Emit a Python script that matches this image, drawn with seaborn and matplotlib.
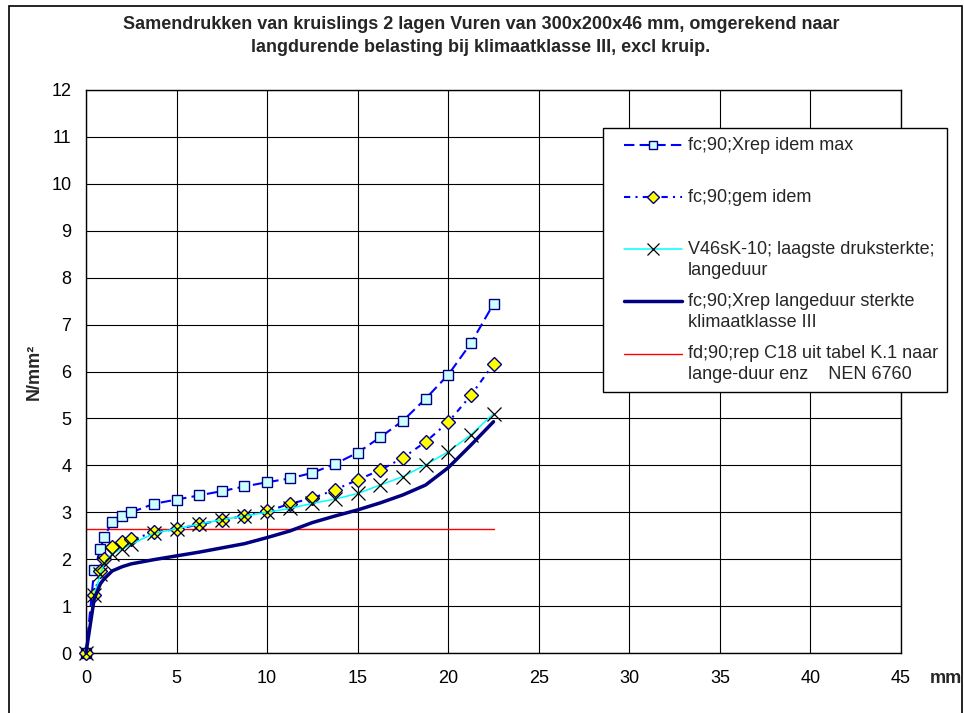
import matplotlib
matplotlib.use("Agg")
import matplotlib.pyplot as plt
from matplotlib.legend_handler import HandlerLine2D
from matplotlib.patches import Rectangle
from matplotlib.ticker import MultipleLocator
import seaborn as sns

# Indentation (mm) at which each measurement was taken
indrukking = [0, 0.45, 0.8, 1.0, 1.45, 2.0, 2.5, 3.75, 5, 6.25, 7.5, 8.75, 10,
              11.25, 12.5, 13.75, 15, 16.25, 17.5, 18.75, 20, 21.25, 22.5]

# Stress (N/mm2) per series
fc90_xrep_max = [0, 1.77, 2.21, 2.48, 2.79, 2.92, 3.00, 3.18, 3.27, 3.36, 3.45, 3.55,
                 3.64, 3.72, 3.84, 4.03, 4.27, 4.60, 4.95, 5.42, 5.93, 6.60, 7.44]
fc90_gem = [0, 1.24, 1.74, 2.00, 2.25, 2.36, 2.42, 2.57, 2.64, 2.74, 2.84, 2.92,
            3.02, 3.18, 3.30, 3.48, 3.69, 3.90, 4.16, 4.50, 4.92, 5.49, 6.16]
v46sk10 = [0, 1.24, 1.68, 1.92, 2.12, 2.22, 2.32, 2.55, 2.65, 2.75, 2.84, 2.92,
           3.00, 3.08, 3.19, 3.28, 3.40, 3.58, 3.76, 4.01, 4.29, 4.65, 5.10]
fc90_langeduur = [0, 1.15, 1.48, 1.58, 1.75, 1.84, 1.90, 1.99, 2.07, 2.15, 2.24, 2.33,
                  2.46, 2.60, 2.78, 2.92, 3.05, 3.20, 3.37, 3.58, 3.95, 4.43, 4.93]

# Design value from NEN 6760
fd90_x = [0, 22.5]
fd90_y = [2.64, 2.64]

labels = [
    "fc;90;Xrep idem max",
    "fc;90;gem idem",
    "V46sK-10; laagste druksterkte;\nlangeduur",
    "fc;90;Xrep langeduur sterkte\nklimaatklasse III",
    "fd;90;rep C18 uit tabel K.1 naar\nlange-duur enz    NEN 6760",
]

sns.set_style("white")
plt.rcParams["font.family"] = ["Liberation Sans", "DejaVu Sans"]

W, H = 964, 713
fig = plt.figure(figsize=(W / 100, H / 100), dpi=100)
ax = fig.add_axes([86 / W, 1 - 653 / H, (901 - 86) / W, (653 - 90) / H])

common = dict(ax=ax, errorbar=None, legend=False, clip_on=False)

sns.lineplot(x=fd90_x, y=fd90_y, color="#FF0000", linewidth=1.0, zorder=2, **common)
sns.lineplot(x=indrukking, y=fc90_xrep_max, color="#0000FF", linewidth=1.5,
             linestyle=(0, (5, 2.5)), marker="s", markersize=6.5,
             markerfacecolor="#CCFFFF", markeredgecolor="#000080",
             markeredgewidth=1.0, zorder=4, **common)
sns.lineplot(x=indrukking, y=fc90_gem, color="#0000FF", linewidth=1.5,
             linestyle=(0, (3, 2.5, 1, 2.5)), marker="D", markersize=7.5,
             markerfacecolor="#FFFF00", markeredgecolor="#000080",
             markeredgewidth=1.0, zorder=4, **common)
sns.lineplot(x=indrukking, y=v46sk10, color="#00FFFF", linewidth=1.1,
             marker="x", markersize=10, markerfacecolor="#000000",
             markeredgecolor="#000000", markeredgewidth=0.9, zorder=5, **common)
sns.lineplot(x=indrukking, y=fc90_langeduur, color="#000080", linewidth=2.5,
             zorder=5, **common)

lines = ax.get_lines()
handles = [lines[1], lines[2], lines[3], lines[4], lines[0]]

ax.set_xlim(0, 45)
ax.set_ylim(0, 12)
ax.xaxis.set_major_locator(MultipleLocator(5))
ax.xaxis.set_minor_locator(MultipleLocator(1))
ax.yaxis.set_major_locator(MultipleLocator(1))
ax.yaxis.set_minor_locator(MultipleLocator(0.5))
ax.grid(True, which="major", color="#000000", linewidth=0.8)
ax.set_axisbelow(True)
for side in ["left", "bottom", "top", "right"]:
    ax.spines[side].set_color("#000000")
    ax.spines[side].set_linewidth(1.0)
ax.tick_params(axis="both", which="major", direction="inout", length=11,
               width=1, color="#000000", labelsize=13, labelcolor="#000000")
ax.tick_params(axis="both", which="minor", direction="inout", length=9,
               width=1, color="#000000")
ax.tick_params(axis="x", which="major", pad=7)
ax.tick_params(axis="y", which="major", pad=5)
ax.set_xlabel("")
ax.set_ylabel("N/mm²", fontsize=13, fontweight="bold")
ax.yaxis.set_label_coords(-0.053, 0.5)

ax.annotate("mm", xy=(1, 0), xycoords="axes fraction", xytext=(21, -12.5),
            textcoords="offset points", ha="left", va="top",
            fontsize=13, fontweight="bold")

fig.text(0.499, 1 - 16 / H,
         "Samendrukken van kruislings 2 lagen Vuren van 300x200x46 mm, omgerekend naar\n"
         "langdurende belasting bij klimaatklasse III, excl kruip.",
         ha="center", va="top", fontsize=13, fontweight="bold", linespacing=1.45)


class RaisedLineHandler(HandlerLine2D):
    """Line handle drawn level with the first line of a label, with a left indent."""

    def __init__(self, lift=0.0, indent=0.0, **kw):
        super().__init__(**kw)
        self.lift = lift
        self.indent = indent

    def create_artists(self, legend, orig_handle, xdescent, ydescent, width,
                       height, fontsize, trans):
        pad = self.indent * fontsize
        return super().create_artists(legend, orig_handle, xdescent - pad,
                                      ydescent - 2 * self.lift * fontsize,
                                      width - pad, height, fontsize, trans)


legend_labels = [lbl if "\n" in lbl else lbl + "\n " for lbl in labels]
handler = RaisedLineHandler(lift=0.6, indent=0.65)
leg = fig.legend(handles, legend_labels, loc="upper left",
                 bbox_to_anchor=(603 / W, 1 - 128 / H), bbox_transform=fig.transFigure,
                 borderaxespad=0, borderpad=0.5, fontsize=13, handlelength=3.9,
                 handletextpad=0.3, labelspacing=0.8, markerscale=0.85,
                 frameon=True, fancybox=False, framealpha=1,
                 handler_map={h: handler for h in handles})
leg.get_frame().set_edgecolor("#000000")
leg.get_frame().set_linewidth(1.0)
for t in leg.get_texts():
    t.set_linespacing(1.28)

fig.add_artist(Rectangle((9 / W, -0.02), (962 - 9) / W, 1.02 - 6 / H,
                         transform=fig.transFigure, fill=False,
                         edgecolor="#000000", linewidth=1.2, clip_on=False))

fig.savefig("out.png", dpi=100)
